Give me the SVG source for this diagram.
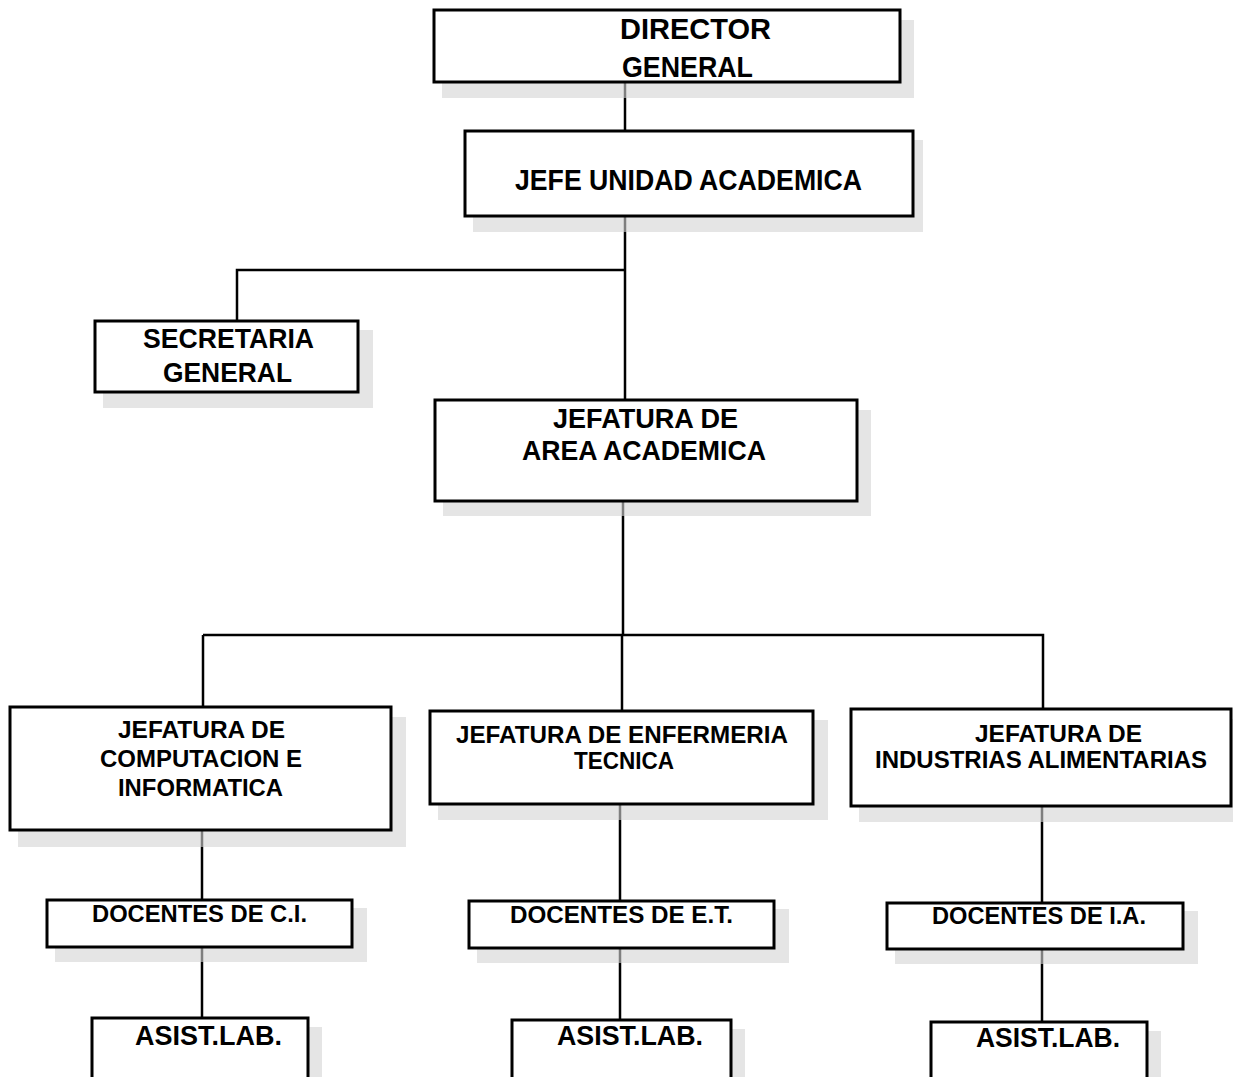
<svg xmlns="http://www.w3.org/2000/svg" width="1233" height="1077" viewBox="0 0 1233 1077">
<style>
.box{fill:#fff;stroke:#000;stroke-width:3}
.sh{fill:#d4d4d4;opacity:0.6}
.t{font-family:"Liberation Sans",Arial,sans-serif;font-weight:bold;fill:#000}
.c{fill:none;stroke:#000;stroke-width:2.5}
</style>
<rect width="1233" height="1077" fill="#fff"/>
<g id="connectors">
<path class="c" d="M625 82V131"/>
<path class="c" d="M625 216V400M625 270H237V321"/>
<path class="c" d="M623 501V636M203 635H1043V709M203 635V707M622 636V711"/>
<path class="c" d="M202 830V900M202 947V1018"/>
<path class="c" d="M620 804V901M620 948V1020"/>
<path class="c" d="M1042 806V903M1042 949V1022"/>
</g>
<g id="director">
<rect class="sh" x="442" y="20" width="472" height="78"/>
<rect class="box" x="434" y="10" width="466" height="72"/>
<text class="t" x="620" y="39" font-size="30" textLength="151" lengthAdjust="spacingAndGlyphs">DIRECTOR</text>
<text class="t" x="622" y="77" font-size="30" textLength="131" lengthAdjust="spacingAndGlyphs">GENERAL</text>
</g>
<g id="jefe-unidad">
<rect class="sh" x="473" y="140" width="450" height="92"/>
<rect class="box" x="465" y="131" width="448" height="85"/>
<text class="t" x="515" y="190" font-size="29" textLength="347" lengthAdjust="spacingAndGlyphs">JEFE UNIDAD ACADEMICA</text>
</g>
<g id="secretaria">
<rect class="sh" x="103" y="330" width="270" height="78"/>
<rect class="box" x="95" y="321" width="263" height="71"/>
<text class="t" x="143" y="348" font-size="28.5" textLength="171" lengthAdjust="spacingAndGlyphs">SECRETARIA</text>
<text class="t" x="163" y="382" font-size="28.5" textLength="129" lengthAdjust="spacingAndGlyphs">GENERAL</text>
</g>
<g id="jefatura-area">
<rect class="sh" x="443" y="410" width="428" height="106"/>
<rect class="box" x="435" y="400" width="422" height="101"/>
<text class="t" x="553" y="428" font-size="28.5" textLength="185" lengthAdjust="spacingAndGlyphs">JEFATURA DE</text>
<text class="t" x="522" y="460" font-size="28.5" textLength="244" lengthAdjust="spacingAndGlyphs">AREA ACADEMICA</text>
</g>
<g id="jefatura-computacion">
<rect class="sh" x="18" y="717" width="388" height="130"/>
<rect class="box" x="10" y="707" width="381" height="123"/>
<text class="t" x="118" y="738" font-size="24" textLength="167" lengthAdjust="spacingAndGlyphs">JEFATURA DE</text>
<text class="t" x="100" y="767" font-size="24" textLength="202" lengthAdjust="spacingAndGlyphs">COMPUTACION E</text>
<text class="t" x="118" y="796" font-size="24" textLength="165" lengthAdjust="spacingAndGlyphs">INFORMATICA</text>
</g>
<g id="jefatura-enfermeria">
<rect class="sh" x="438" y="720" width="390" height="100"/>
<rect class="box" x="430" y="711" width="383" height="93"/>
<text class="t" x="456" y="743" font-size="24" textLength="332" lengthAdjust="spacingAndGlyphs">JEFATURA DE ENFERMERIA</text>
<text class="t" x="574" y="769" font-size="24" textLength="100" lengthAdjust="spacingAndGlyphs">TECNICA</text>
</g>
<g id="jefatura-industrias">
<rect class="sh" x="859" y="719" width="374" height="103"/>
<rect class="box" x="851" y="709" width="380" height="97"/>
<text class="t" x="975" y="742" font-size="24" textLength="167" lengthAdjust="spacingAndGlyphs">JEFATURA DE</text>
<text class="t" x="875" y="768" font-size="24" textLength="332" lengthAdjust="spacingAndGlyphs">INDUSTRIAS ALIMENTARIAS</text>
</g>
<g id="docentes-ci">
<rect class="sh" x="55" y="908" width="312" height="54"/>
<rect class="box" x="47" y="900" width="305" height="47"/>
<text class="t" x="92" y="922" font-size="24" textLength="215" lengthAdjust="spacingAndGlyphs">DOCENTES DE C.I.</text>
</g>
<g id="docentes-et">
<rect class="sh" x="477" y="909" width="312" height="54"/>
<rect class="box" x="469" y="901" width="305" height="47"/>
<text class="t" x="510" y="923" font-size="24" textLength="223" lengthAdjust="spacingAndGlyphs">DOCENTES DE E.T.</text>
</g>
<g id="docentes-ia">
<rect class="sh" x="895" y="911" width="303" height="53"/>
<rect class="box" x="887" y="903" width="296" height="46"/>
<text class="t" x="932" y="924" font-size="24" textLength="214" lengthAdjust="spacingAndGlyphs">DOCENTES DE I.A.</text>
</g>
<g id="asist-ci">
<rect class="sh" x="100" y="1027" width="222" height="60"/>
<rect class="box" x="92" y="1018" width="216" height="62"/>
<text class="t" x="135" y="1045" font-size="27" textLength="147" lengthAdjust="spacingAndGlyphs">ASIST.LAB.</text>
</g>
<g id="asist-et">
<rect class="sh" x="520" y="1029" width="225" height="60"/>
<rect class="box" x="512" y="1020" width="219" height="62"/>
<text class="t" x="557" y="1045" font-size="27" textLength="146" lengthAdjust="spacingAndGlyphs">ASIST.LAB.</text>
</g>
<g id="asist-ia">
<rect class="sh" x="939" y="1031" width="222" height="60"/>
<rect class="box" x="931" y="1022" width="216" height="62"/>
<text class="t" x="976" y="1047" font-size="27" textLength="144" lengthAdjust="spacingAndGlyphs">ASIST.LAB.</text>
</g>
</svg>
